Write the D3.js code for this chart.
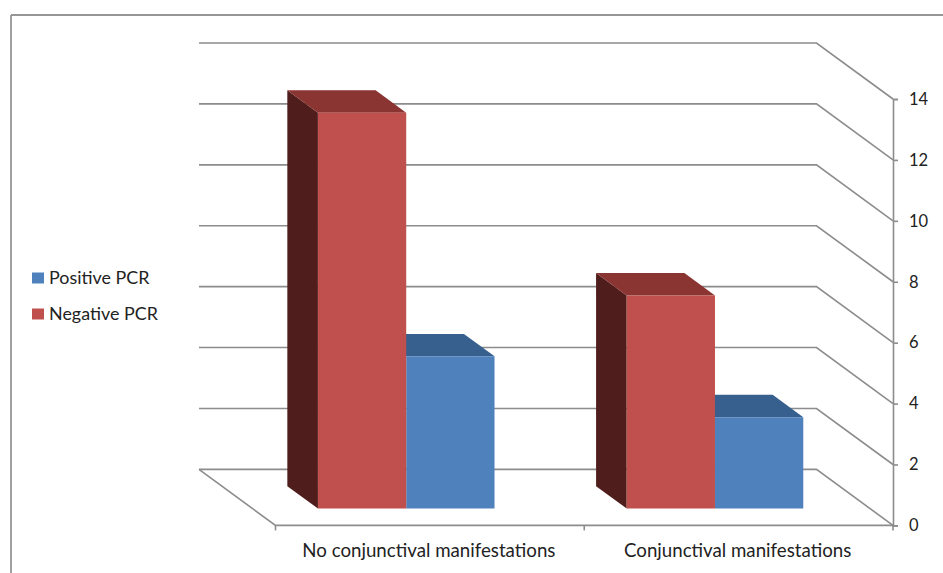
<!DOCTYPE html>
<html>
<head>
<meta charset="utf-8">
<style>
body { margin: 0; background: #fff; }
text { font-family: Lato, "Open Sans", sans-serif; fill: #222; }
</style>
<script src="https://cdn.jsdelivr.net/npm/d3@7"></script>
</head>
<body>
<div id="chart"></div>
<script>
//chart values
var categories = ["No conjunctival manifestations", "Conjunctival manifestations"];
var seriesNames = ["Positive PCR", "Negative PCR"];
var positivePCR = [5, 3];
var negativePCR = [13, 7];
var yTicks = [0, 2, 4, 6, 8, 10, 12, 14];

//svg size and the front plane of the 3d box
var svgWidth = 943;
var svgHeight = 573;
var front = {left: 275.5, right: 893, top: 99, bottom: 525.4};
var depth = {dx: -76.5, dy: -56};
var gridColor = "#8c8c8c";

var colors = {
    "Positive PCR": {front: "#4f81bd", top: "#37608f"},
    "Negative PCR": {front: "#c0504d", top: "#8b3533", side: "#4f1e1c"}
};

var svg = d3.select("#chart")
    .append("svg")
    .attr("width", svgWidth)
    .attr("height", svgHeight)
    .style("display", "block");

//scales
var x = d3.scaleBand().domain(categories).range([front.left, front.right]);
var xInner = d3.scaleOrdinal().domain(["Negative PCR", "Positive PCR"]).range([0, 1]);
var y = d3.scaleLinear().domain([0, 14]).range([front.bottom, front.top]);
var barWidth = 88.3;

//project a point of the box, d is 0 at the front and 1 at the back wall
function project(px, py, d) {
    return [px + depth.dx * d, py + depth.dy * d];
}

//outer frame of the chart area
svg.append("line").attr("x1", 11).attr("x2", 943).attr("y1", 15).attr("y2", 15)
    .attr("stroke", "#969696").attr("stroke-width", 1.8);
svg.append("line").attr("x1", 11).attr("x2", 11).attr("y1", 15).attr("y2", 573)
    .attr("stroke", "#969696").attr("stroke-width", 1.8);

//gridlines run along the back wall and then come forward down to the axis
var line = d3.line();
svg.append("g").selectAll("path")
    .data(yTicks)
    .enter()
    .append("path")
    .attr("fill", "none")
    .attr("stroke", gridColor)
    .attr("stroke-width", 1.6)
    .attr("d", t => line([project(front.left, y(t), 1), project(front.right, y(t), 1), [front.right, y(t)]]));

//floor edges
svg.append("path")
    .attr("fill", "none")
    .attr("stroke", gridColor)
    .attr("stroke-width", 1.6)
    .attr("d", line([project(front.left, y(0), 1), [front.left, y(0)], [front.right, y(0)]]));

//right axis
var yAxis = svg.append("g")
    .attr("transform", `translate(${front.right}, 0)`)
    .call(d3.axisRight(y).tickValues(yTicks).tickSize(5).tickPadding(11).tickFormat(d3.format("d")));
yAxis.select(".domain").attr("stroke", gridColor).attr("stroke-width", 1.6);
yAxis.selectAll(".tick line").attr("stroke", gridColor).attr("stroke-width", 1.6);
yAxis.selectAll("text").attr("font-size", 16.5).style("font-family", "Lato");

//small ticks under the floor at the category edges
svg.append("g").selectAll("line")
    .data(categories.map(c => x(c)).concat([front.right]))
    .enter()
    .append("line")
    .attr("x1", d => d).attr("x2", d => d)
    .attr("y1", y(0)).attr("y2", y(0) + 5)
    .attr("stroke", gridColor).attr("stroke-width", 1.6);

//category labels
svg.append("g").selectAll("text")
    .data(categories)
    .enter()
    .append("text")
    .attr("x", d => x(d) + x.bandwidth() / 2 - 1)
    .attr("y", 557)
    .attr("text-anchor", "middle")
    .attr("font-size", 18.7)
    .text(d => d);

//flatten the values so every bar has its own row
var bars = [];
categories.forEach(function(c, i) {
    bars.push({category: c, series: "Positive PCR", value: positivePCR[i]});
    bars.push({category: c, series: "Negative PCR", value: negativePCR[i]});
});

//a bar sits between these two depths
var nearD = 0.3;
var farD = 0.7;

function barBox(b) {
    var x0 = x(b.category) + x.bandwidth() / 2 - 0.7 + (xInner(b.series) - 1) * barWidth;
    return {x0: x0, x1: x0 + barWidth, y0: y(0), y1: y(b.value)};
}

//blue goes first since the red bar covers the back of its top
var barGroup = svg.append("g").selectAll("g")
    .data(bars)
    .enter()
    .append("g");

//left side face, only seen on the red bars
barGroup.filter(d => colors[d.series].side)
    .append("path")
    .attr("fill", d => colors[d.series].side)
    .attr("d", function(d) {
        var b = barBox(d);
        return line([project(b.x0, b.y1, nearD), project(b.x0, b.y1, farD), project(b.x0, b.y0, farD), project(b.x0, b.y0, nearD)]) + "Z";
    });

//top face
barGroup.append("path")
    .attr("fill", d => colors[d.series].top)
    .attr("d", function(d) {
        var b = barBox(d);
        return line([project(b.x0, b.y1, nearD), project(b.x0, b.y1, farD), project(b.x1, b.y1, farD), project(b.x1, b.y1, nearD)]) + "Z";
    });

//front face
barGroup.append("path")
    .attr("fill", d => colors[d.series].front)
    .attr("d", function(d) {
        var b = barBox(d);
        return line([project(b.x0, b.y1, nearD), project(b.x1, b.y1, nearD), project(b.x1, b.y0, nearD), project(b.x0, b.y0, nearD)]) + "Z";
    });

//legend
var legend = svg.append("g").selectAll("g")
    .data(seriesNames)
    .enter()
    .append("g")
    .attr("transform", (d, i) => `translate(32, ${278 + i * 36})`);

legend.append("rect")
    .attr("y", -5.5)
    .attr("width", 12)
    .attr("height", 11)
    .attr("fill", d => colors[d].front);

legend.append("text")
    .attr("x", 17)
    .attr("y", 6)
    .attr("font-size", 17.9)
    .text(d => d);
</script>
</body>
</html>
